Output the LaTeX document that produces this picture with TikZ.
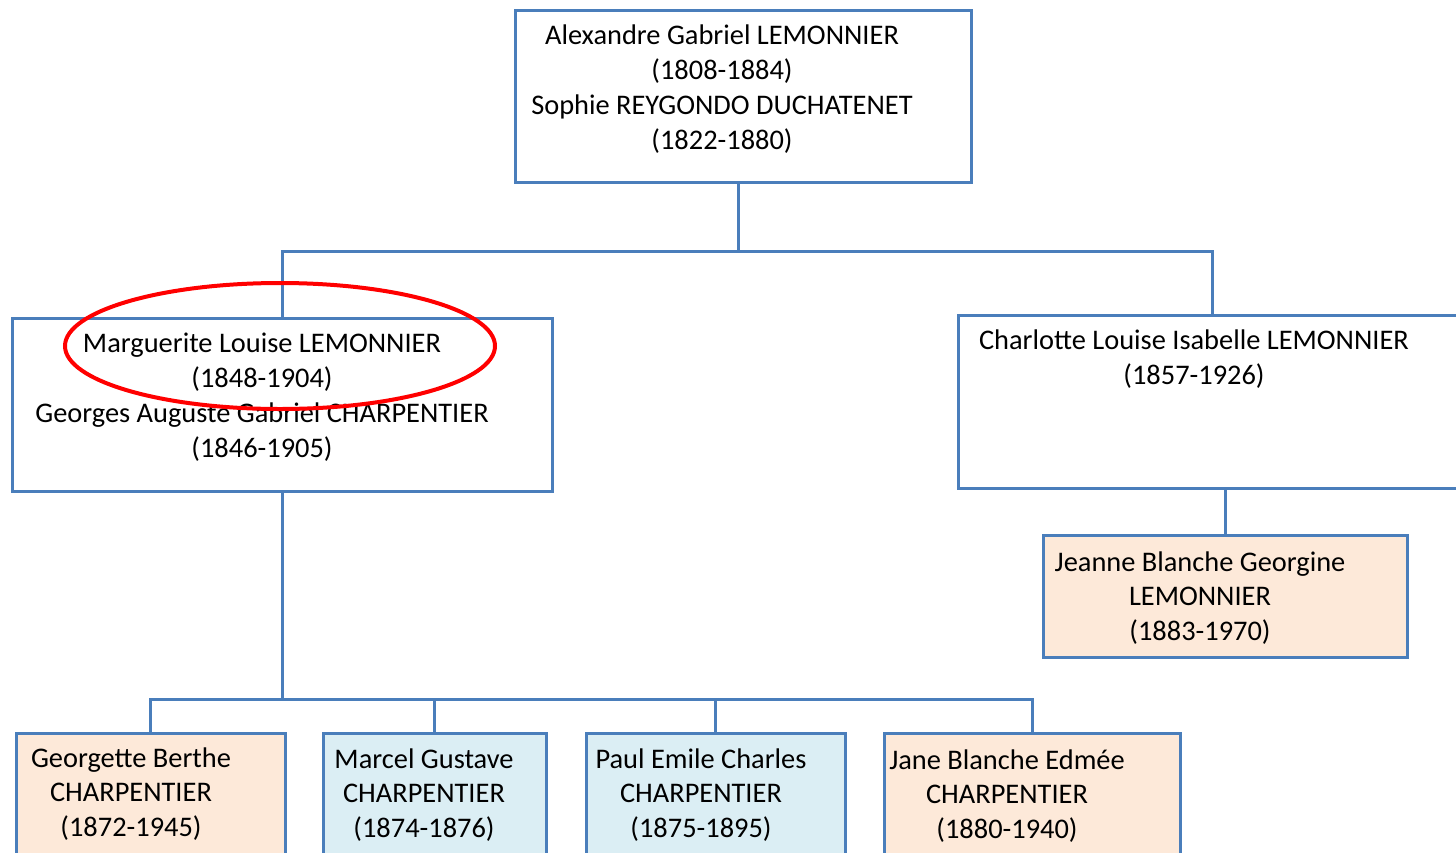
\documentclass[tikz,border=0pt]{standalone}
\usepackage{fontspec}
\setmainfont{Carlito}
\usetikzlibrary{positioning,calc}
\definecolor{lineblue}{HTML}{4A7EBB}
\definecolor{peach}{HTML}{FDE9D9}
\definecolor{skyblue}{HTML}{DBEEF4}
\tikzset{
  person/.style={draw=lineblue, line width=1.5pt, rectangle, inner sep=0pt},
  names/.style={align=center, inner sep=0pt, font=\fontsize{14.2}{17.4}\selectfont},
  link/.style={draw=lineblue, line width=1.5pt}
}

\begin{document}
\begin{tikzpicture}[x=0.5pt,y=-0.5pt]
  \clip (0,0) rectangle (1456,852);
  \fill[white] (0,0) rectangle (1456,852);
  % boxes
  \node[person, minimum width=228pt, minimum height=86pt] (top) at (743,96) {};
  \node[person, minimum width=270pt, minimum height=86.5pt] (left) at (282,404.5) {};
  \node[person, minimum width=261pt, minimum height=86.5pt] (right) at (1219,401.5) {};
  \node[person, fill=peach, minimum width=182pt, minimum height=61pt] (jeanne) at (1225,596) {};
  \node[person, fill=peach, minimum width=134.5pt, minimum height=73.5pt] (georgette) at (150.5,806.5) {};
  \node[person, fill=skyblue, minimum width=111.5pt, minimum height=73.5pt] (marcel) at (434.5,806.5) {};
  \node[person, fill=skyblue, minimum width=129.5pt, minimum height=73.5pt] (paul) at (715.5,806.5) {};
  \node[person, fill=peach, minimum width=148pt, minimum height=73.5pt] (jane) at (1032,806.5) {};
  % texts
  \node[names] (topnames) at (722,89) {Alexandre Gabriel LEMONNIER\\(1808-1884)\\Sophie REYGONDO DUCHATENET\\(1822-1880)};
  \node[names] (leftnames) at (262,397) {Marguerite Louise LEMONNIER\\(1848-1904)\\Georges Auguste Gabriel CHARPENTIER\\(1846-1905)};
  \node[names] (rightnames) at (1194,359) {Charlotte Louise Isabelle LEMONNIER\\(1857-1926)};
  \node[names] (jeannenames) at (1200,598) {Jeanne Blanche Georgine\\LEMONNIER\\(1883-1970)};
  \node[names] (georgettenames) at (131,794) {Georgette Berthe\\CHARPENTIER\\(1872-1945)};
  \node[names] (marcelnames) at (424,795) {Marcel Gustave\\CHARPENTIER\\(1874-1876)};
  \node[names] (paulnames) at (701,795) {Paul Emile Charles\\CHARPENTIER\\(1875-1895)};
  \node[names] (janenames) at (1007,796) {Jane Blanche Edm\'ee\\CHARPENTIER\\(1880-1940)};
  % links
  \coordinate (j1) at (738,251);
  \coordinate (j2) at (282,699);
  \coordinate (drop) at (1212,251);
  \draw[link] (top.south -| j1) -- (j1);
  \draw[link] (left.north) |- (j1) -- (drop) -- (drop |- right.north);
  \draw[link] (right.south -| jeanne.north) -- (jeanne.north);
  \draw[link] (left.south) -- (j2);
  \draw[link] (georgette.north) |- (j2) -| (jane.north);
  \foreach \kid in {marcel,paul}
    \draw[link] (\kid.north) -- (\kid.north |- j2);
  % mark
  \draw[red, line width=2pt] (280,346) circle [x radius=215, y radius=63];
\end{tikzpicture}
\end{document}
